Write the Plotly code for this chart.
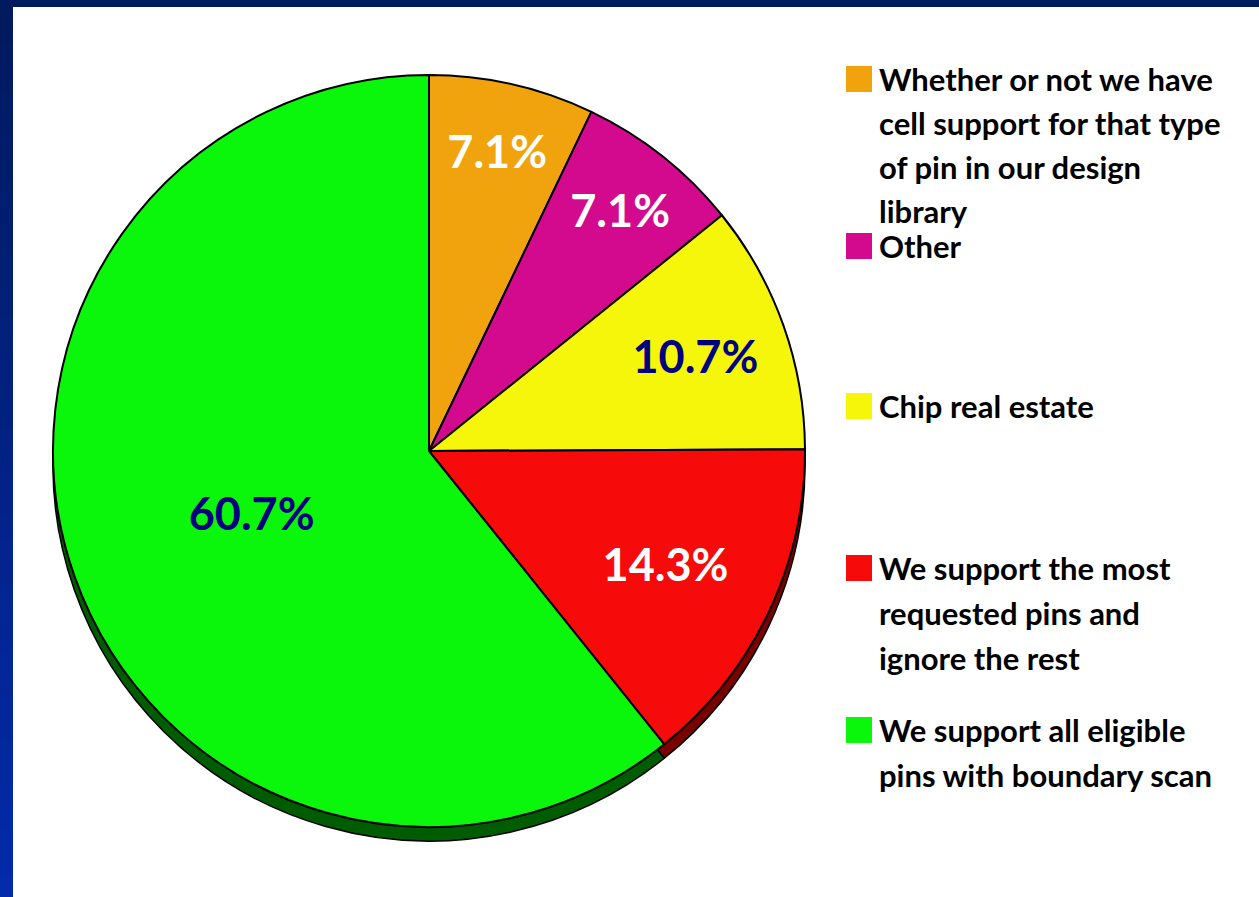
import plotly.graph_objects as go

# Survey answers, clockwise from 12 o'clock
categories = [
    "Whether or not we have cell support for that type of pin in our design library",
    "Other",
    "Chip real estate",
    "We support the most requested pins and ignore the rest",
    "We support all eligible pins with boundary scan",
]
shares = [7.1, 7.1, 10.7, 14.3, 60.7]

# Legend text, wrapped as displayed
legend_lines = [
    ["Whether or not we have", "cell support for that type", "of pin in our design", "library"],
    ["Other"],
    ["Chip real estate"],
    ["We support the most", "requested pins and", "ignore the rest"],
    ["We support all eligible", "pins with boundary scan"],
]

face_colors = ["#F0A30C", "#D40A8E", "#F6F60A", "#F60A0A", "#0AF60A"]
side_colors = ["#8A5E00", "#7A0050", "#8A8A00", "#7A0000", "#005C00"]
label_colors = ["white", "white", "#000080", "white", "#000080"]

W, H = 1259, 897
cx, cy, r = 429, 451, 376      # pie centre / radius in px
depth = 14                     # thickness of the pie rim in px


def px_x(v):
    return v / W


def px_y(v):
    return 1 - v / H


fig = go.Figure()

# Rim: a darker copy of the pie, pushed down to give the disc some thickness
fig.add_trace(go.Pie(
    values=shares, labels=categories, sort=False, direction="clockwise",
    marker=dict(colors=side_colors, line=dict(color="black", width=1.5)),
    textinfo="none", hoverinfo="skip", showlegend=False,
    domain=dict(x=[px_x(cx - r), px_x(cx + r)],
                y=[px_y(cy + depth + r), px_y(cy + depth - r)]),
))

# Top face of the pie
fig.add_trace(go.Pie(
    values=shares, labels=categories, sort=False, direction="clockwise",
    marker=dict(colors=face_colors, line=dict(color="black", width=2)),
    texttemplate="%{value:.1f}%", textposition="inside",
    insidetextorientation="horizontal",
    textfont=dict(family="Lato", size=45, color=label_colors, weight="bold"),
    showlegend=False,
    domain=dict(x=[px_x(cx - r), px_x(cx + r)],
                y=[px_y(cy + r), px_y(cy - r)]),
))

shapes = []
annotations = []

# Legend: coloured squares and wrapped labels
entry_tops = [66, 233, 393, 555, 717]
line_gaps = [44, 45, 45, 45, 45]
for color, top, gap, lines in zip(face_colors, entry_tops, line_gaps, legend_lines):
    shapes.append(dict(type="rect", xref="paper", yref="paper",
                       x0=px_x(846), x1=px_x(872), y0=px_y(top + 26), y1=px_y(top),
                       fillcolor=color, line=dict(width=0)))
    for i, text in enumerate(lines):
        annotations.append(dict(
            text=text, xref="paper", yref="paper",
            x=px_x(877), y=px_y(top + 13 + i * gap),
            xanchor="left", yanchor="middle", showarrow=False,
            font=dict(family="Lato", size=31, color="black", weight="bold"),
        ))

# Navy slide frame: top strip and a left strip shading to a brighter blue
top_rgb = (0, 26, 94)
bottom_rgb = (2, 42, 170)
shapes.append(dict(type="rect", xref="paper", yref="paper",
                   x0=0, x1=1, y0=px_y(7), y1=1,
                   fillcolor="rgb(%d,%d,%d)" % top_rgb, line=dict(width=0)))
bands = 40
for k in range(bands):
    t = k / (bands - 1)
    rgb = tuple(round(a + (b - a) * t) for a, b in zip(top_rgb, bottom_rgb))
    shapes.append(dict(type="rect", xref="paper", yref="paper",
                       x0=0, x1=px_x(13),
                       y0=1 - (k + 1) / bands - 0.002, y1=1 - k / bands,
                       fillcolor="rgb(%d,%d,%d)" % rgb, line=dict(width=0)))

fig.update_layout(
    width=W, height=H,
    margin=dict(l=0, r=0, t=0, b=0),
    paper_bgcolor="white", plot_bgcolor="white",
    shapes=shapes, annotations=annotations,
)

fig.write_html("out.html")
